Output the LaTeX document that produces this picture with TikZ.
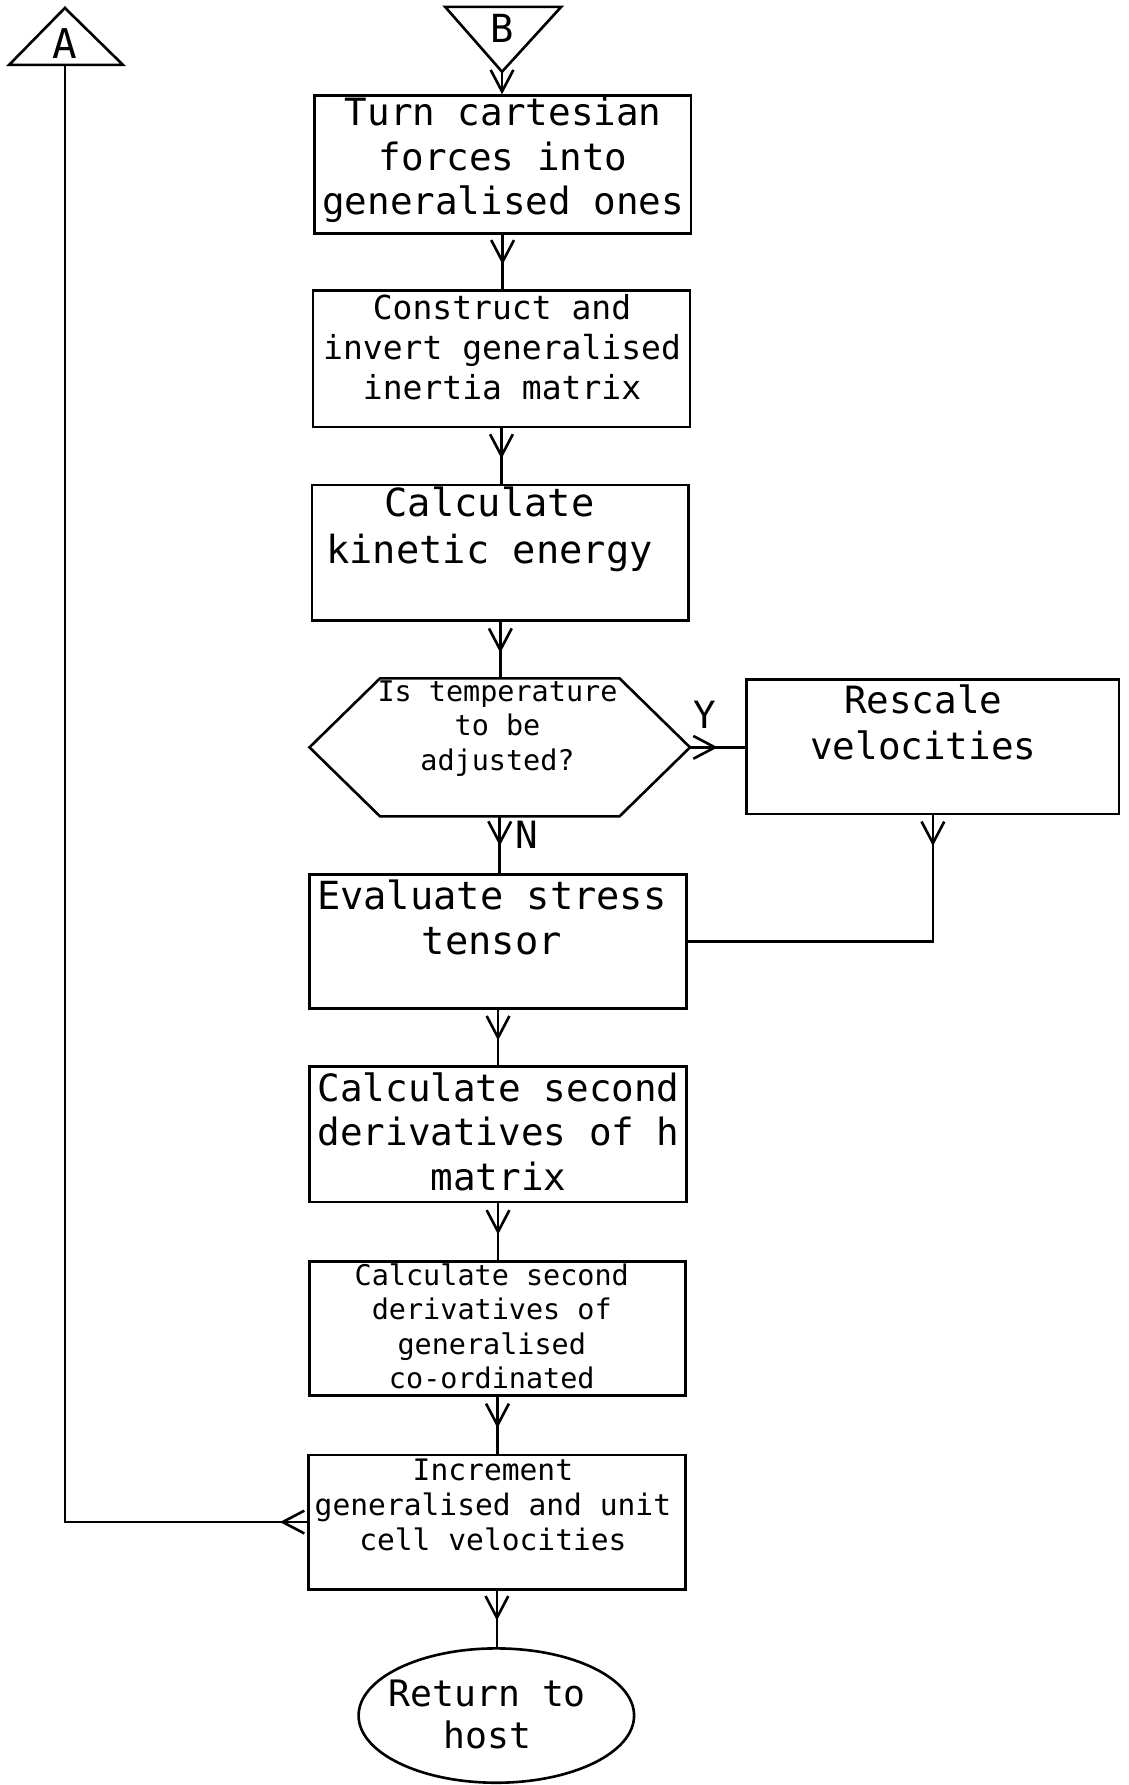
\documentclass[tikz,border=0pt]{standalone}
\usepackage{fontspec}
\newfontfamily\plotter{DejaVu Sans Mono}
\usetikzlibrary{arrows.meta,decorations.markings,shapes.geometric,calc}
\tikzset{
  box/.style={draw, rectangle, inner sep=0pt},
  txt/.style 2 args={align=center, inner sep=0pt, font=\plotter\fontsize{#1}{#2}\selectfont},
  midarrow/.style={postaction={decorate}, decoration={markings, mark=at position #1 with {\arrow{>}}}},
}
\begin{document}
\begin{tikzpicture}[x=1pt,y=-1pt, line width=2.3pt, >={Straight Barb[length=19pt,width=20pt]}]
\fill[white] (0,0) rectangle (991,1568);
\useasboundingbox (0,0) rectangle (991,1568);

% connector triangles
\draw (8,57) -- (108,57) -- (57,7) -- cycle;
\node[txt={36}{40}] (A) at (57,38) {A};
\coordinate (Abase) at (57,57);
\draw (391,6) -- (493,6) -- (441,63) -- cycle;
\node[txt={34}{40}] (B) at (441,25) {B};
\coordinate (Bapex) at (441,63);

% boxes
\node[box, minimum width=331pt, minimum height=121pt] (b1) at (441.5,144.5) {};
\node[txt={33}{39}] (t1) at (442,140.5) {Turn cartesian\\forces into\\generalised ones};

\node[box, minimum width=331pt, minimum height=120pt] (b2) at (440.5,315) {};
\node[txt={29}{35}] (t2) at (441,305) {Construct and\\invert generalised\\inertia matrix};

\node[box, minimum width=331pt, minimum height=119pt] (b3) at (439.5,485.5) {};
\node[txt={34}{42}] (t3) at (430,465) {Calculate\\kinetic energy};

\node[minimum width=332pt, minimum height=119pt, inner sep=0pt] (hex) at (439,656.5) {};
\draw ($(hex.west)$) -- ($(hex.north west)+(62,0)$) -- ($(hex.north east)+(-62,0)$) -- (hex.east)
  -- ($(hex.south east)+(-62,0)$) -- ($(hex.south west)+(62,0)$) -- cycle;
\node[txt={25}{30}] (th) at (437,640) {Is temperature\\to be\\adjusted?};

\node[box, minimum width=327pt, minimum height=118pt] (rs) at (819.5,656) {};
\node[txt={33}{41}] (tr) at (811,634.5) {Rescale\\velocities};

\node[box, minimum width=331pt, minimum height=118pt] (ev) at (437.5,827) {};
\node[txt={34}{40}] (te) at (432,806) {Evaluate stress\\tensor};

\node[box, minimum width=331pt, minimum height=119pt] (ch) at (437.5,996.5) {};
\node[txt={33}{39}] (tch) at (438,994) {Calculate second\\derivatives of h\\matrix};

\node[box, minimum width=330pt, minimum height=118pt] (cg) at (437,1167) {};
\node[txt={25}{30}] (tcg) at (432,1165) {Calculate second\\derivatives of\\generalised\\co-ordinated};

\node[box, minimum width=331pt, minimum height=118pt] (inc) at (436.5,1337) {};
\node[txt={26}{31}] (ti) at (433,1322) {Increment\\generalised and unit\\cell velocities};

\node[draw, ellipse, minimum width=242pt, minimum height=118pt, inner sep=0pt] (ret) at (436,1507) {};
\node[txt={32}{37}] (tret) at (428,1506) {Return to\\host};

% connectors
\draw[->] (Bapex) -- (Bapex |- b1.north);
\draw[midarrow=0.55] (b1.south) -- (b1.south |- b2.north);
\draw[midarrow=0.55] (b2.south) -- (b2.south |- b3.north);
\draw[midarrow=0.55] (b3.south) -- (b3.south |- hex.north);
\draw[midarrow=0.5] (hex.east) -- (hex.east -| rs.west);
\node[txt={33}{39}] (Y) at (619,628) {Y};
\draw[midarrow=0.52] (hex.south) -- (hex.south |- ev.north);
\node[txt={33}{39}] (N) at (463,733) {N};
\draw[midarrow=27pt] (rs.south) |- (ev.east);
\draw[midarrow=0.55] (ev.south) -- (ev.south |- ch.north);
\draw[midarrow=0.55] (ch.south) -- (ch.south |- cg.north);
\draw[midarrow=0.55] (cg.south) -- (cg.south |- inc.north);
\draw[midarrow=0.53] (inc.south) -- (inc.south |- ret.north);
\draw[midarrow=24pt] (inc.west) -| (Abase);
\end{tikzpicture}
\end{document}
